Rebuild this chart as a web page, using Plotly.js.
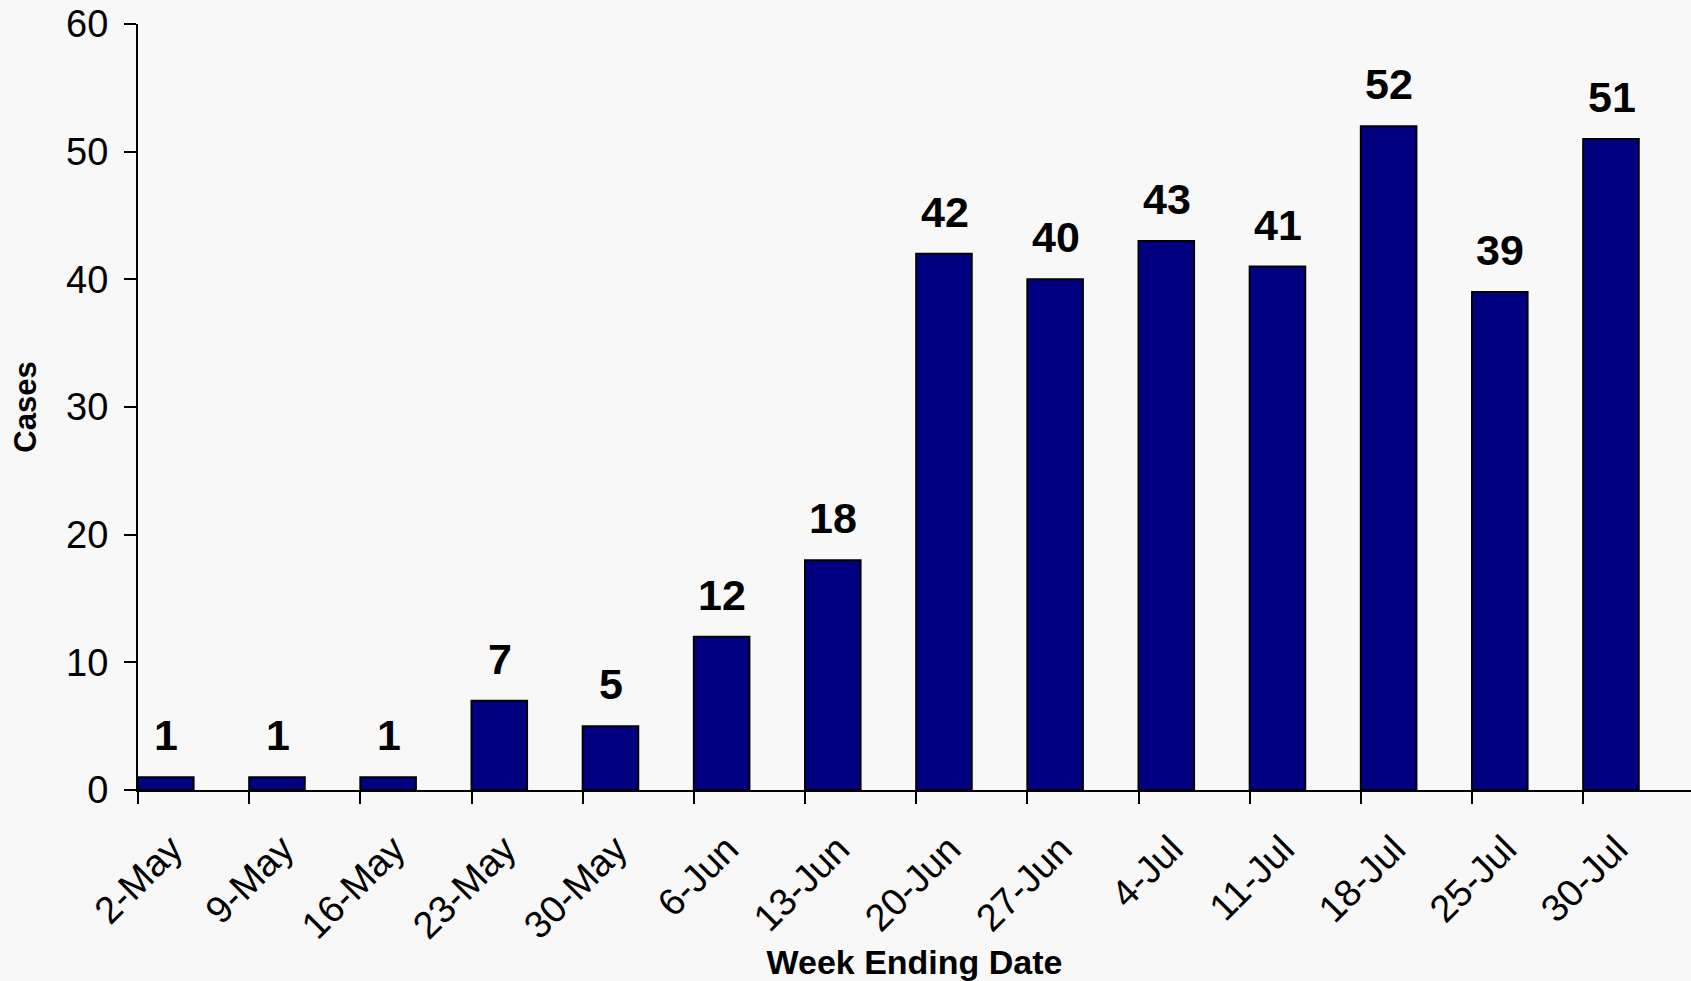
<!DOCTYPE html>
<html>
<head>
<meta charset="utf-8">
<script src="https://cdn.plot.ly/plotly-3.0.1.min.js"></script>
<style>
  html, body { margin: 0; padding: 0; background: #f8f8f8; }
  #chart { width: 1691px; height: 981px; }
</style>
</head>
<body>
<div id="chart"></div>
<script>
const weeks = ["2-May", "9-May", "16-May", "23-May", "30-May", "6-Jun", "13-Jun",
               "20-Jun", "27-Jun", "4-Jul", "11-Jul", "18-Jul", "25-Jul", "30-Jul"];
const cases = [1, 1, 1, 7, 5, 12, 18, 42, 40, 43, 41, 52, 39, 51];
const yTicks = [0, 10, 20, 30, 40, 50, 60];

const FONT = "Liberation Sans, Arial, sans-serif";

const barTrace = {
  type: "bar",
  x: weeks,
  y: cases,
  xaxis: "x",
  yaxis: "y",
  width: 0.5,
  offset: 0,
  marker: { color: "#000080", line: { color: "#000000", width: 2 } },
  hoverinfo: "x+y",
  showlegend: false
};

// invisible helper trace so the label axis knows the categories
const labelTrace = {
  type: "scatter",
  mode: "none",
  x: weeks,
  y: cases,
  xaxis: "x2",
  yaxis: "y",
  hoverinfo: "skip",
  showlegend: false
};

const annotations = weeks.map((w, i) => ({
  x: w,
  y: cases[i],
  xref: "x2",
  yref: "y",
  xshift: -5,
  text: String(cases[i]),
  showarrow: false,
  yanchor: "bottom",
  yshift: 16,
  font: { family: FONT, size: 43, color: "#000000", weight: "bold" }
}));

const layout = {
  width: 1691,
  height: 981,
  paper_bgcolor: "#f8f8f8",
  plot_bgcolor: "#f8f8f8",
  margin: { l: 138, r: 0, t: 24, b: 191 },
  showlegend: false,
  font: { family: FONT, color: "#000000" },
  xaxis: {
    type: "category",
    range: [0, 13.97],
    showline: true,
    linecolor: "#000000",
    linewidth: 2,
    ticks: "outside",
    ticklen: 12,
    tickwidth: 2,
    tickcolor: "#000000",
    showticklabels: false,
    showgrid: false,
    zeroline: false,
    fixedrange: true
  },
  xaxis2: {
    type: "category",
    overlaying: "x",
    anchor: "y",
    side: "bottom",
    range: [-0.3, 13.67],
    showline: false,
    ticks: "",
    tickangle: -45,
    ticklabelstandoff: 28,
    tickfont: { family: FONT, size: 38, color: "#000000" },
    showgrid: false,
    zeroline: false,
    fixedrange: true,
    title: {
      text: "Week Ending Date",
      font: { family: FONT, size: 34, color: "#000000", weight: "bold" },
      standoff: 12
    }
  },
  yaxis: {
    range: [0, 60],
    tickvals: yTicks,
    ticktext: yTicks.map(String),
    showline: true,
    linecolor: "#000000",
    linewidth: 2,
    ticks: "outside",
    ticklen: 12,
    tickwidth: 2,
    tickcolor: "#000000",
    ticklabelstandoff: 8,
    tickfont: { family: FONT, size: 38, color: "#000000" },
    showgrid: false,
    zeroline: false,
    fixedrange: true,
    title: {
      text: "Cases",
      font: { family: FONT, size: 31, color: "#000000", weight: "bold" },
      standoff: 20
    }
  },
  annotations: annotations
};

Plotly.newPlot("chart", [barTrace, labelTrace], layout, { displayModeBar: false, staticPlot: true });
</script>
</body>
</html>
